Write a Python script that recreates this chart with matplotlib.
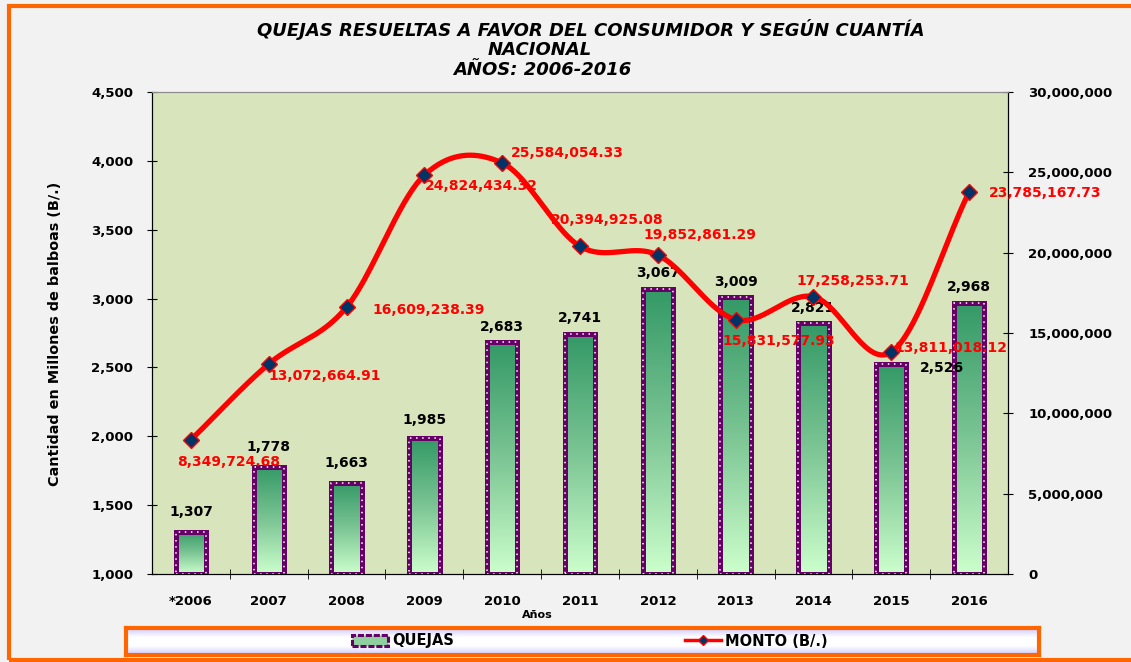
import numpy as np
import matplotlib.pyplot as plt
from matplotlib.colors import LinearSegmentedColormap
from matplotlib.patches import Rectangle, Patch
from matplotlib.lines import Line2D
from matplotlib.ticker import FuncFormatter, MultipleLocator

# datos
years = ["*2006", "2007", "2008", "2009", "2010", "2011", "2012", "2013", "2014", "2015", "2016"]
quejas = [1307, 1778, 1663, 1985, 2683, 2741, 3067, 3009, 2821, 2526, 2968]
monto = [8349724.68, 13072664.91, 16609238.39, 24824434.32, 25584054.33, 20394925.08,
         19852861.29, 15831577.93, 17258253.71, 13811018.12, 23785167.73]

# desplazamiento de etiquetas (px)
monto_off = [(38, -22), (56, -12), (82, -3), (57, -11), (65, 10), (27, 26),
             (42, 20), (43, -21), (39, 16), (60, 4), (76, -1)]
quejas_off = [(0, 20), (0, 20), (0, 20), (0, 18), (0, 15), (0, 16),
              (0, 16), (0, 15), (0, 15), (51, -4), (0, 16)]

W, H = 1131, 662
PT = 0.72  # puntos por pixel

plt.rcParams['font.family'] = ['DejaVu Sans']
plt.rcParams['font.weight'] = 'bold'


def smooth(xs, ys, n=40):
    xs = np.asarray(xs, float)
    ys = np.asarray(ys, float)
    px = np.r_[2 * xs[0] - xs[1], xs, 2 * xs[-1] - xs[-2]]
    py = np.r_[2 * ys[0] - ys[1], ys, 2 * ys[-1] - ys[-2]]
    t = np.linspace(0, 1, n)
    ox, oy = [], []
    for i in range(1, len(px) - 2):
        for arr, out in ((px, ox), (py, oy)):
            p0, p1, p2, p3 = arr[i - 1:i + 3]
            out.extend(0.5 * (2 * p1 + (-p0 + p2) * t + (2 * p0 - 5 * p1 + 4 * p2 - p3) * t ** 2
                              + (-p0 + 3 * p1 - 3 * p2 + p3) * t ** 3))
    return ox, oy


fig = plt.figure(figsize=(W / 100, H / 100), dpi=100, facecolor='#f2f2f2')
fig.patches.append(Rectangle((9 / W, 2 / H), 1.05, 654 / H, transform=fig.transFigure,
                             fill=False, ec='#ff6600', lw=3))

ax = fig.add_axes([152 / W, 88 / H, 856 / W, 482 / H])
ax.set_facecolor('#d8e4bc')
x = np.arange(len(years))

green = LinearSegmentedColormap.from_list('g', ['#ccffcc', '#7cc594', '#339966'])
grad = np.linspace(0, 1, 256).reshape(-1, 1)
base = 1000
bars = ax.bar(x, np.array(quejas) - base, bottom=base, width=0.39, color='none',
              edgecolor='#660066', lw=3.6, zorder=3)
ax.bar(x, np.array(quejas) - base, bottom=base, width=0.39, color='none',
       edgecolor='#ffffff', lw=1.1, ls=(0, (1, 3)), zorder=4)
for r in bars:
    x0 = r.get_x()
    ax.imshow(grad, extent=(x0, x0 + r.get_width(), r.get_y(), r.get_y() + r.get_height()),
              origin='lower', aspect='auto', cmap=green, zorder=2)

for i, q in enumerate(quejas):
    dx, dy = quejas_off[i]
    ax.annotate(f"{q:,}", (x[i], q), xytext=(dx * PT, dy * PT), textcoords='offset points',
                ha='center', va='center', fontsize=10, color='black', zorder=6,
                annotation_clip=False)

ax.set_xlim(-0.5, 10.5)
ax.set_ylim(1000, 4500)
ax.yaxis.set_major_locator(MultipleLocator(500))
ax.yaxis.set_major_formatter(FuncFormatter(lambda v, p: f"{v:,.0f}"))
ax.set_xticks(x)
ax.set_xticklabels(years)
ax.set_xticks(x[:-1] + 0.5, minor=True)
ax.tick_params(axis='x', which='major', length=0, pad=15, labelsize=9.5)
ax.tick_params(axis='x', which='minor', direction='inout', length=7)
ax.tick_params(axis='y', direction='inout', length=7, pad=10, labelsize=9.5)
ax.spines['top'].set_color('#8c8c8c')

ax2 = ax.twinx()
ax2.set_ylim(0, 30e6)
ax2.yaxis.set_major_locator(MultipleLocator(5e6))
ax2.yaxis.set_major_formatter(FuncFormatter(lambda v, p: f"{v:,.0f}"))
ax2.tick_params(axis='y', direction='inout', length=7, pad=11, labelsize=9.5)
ax2.spines['top'].set_color('#8c8c8c')

sx, sy = smooth(x, monto)
ax2.plot(sx, sy, color='red', lw=3.8, solid_capstyle='round', zorder=3)
ax2.plot(x, monto, ls='none', marker='D', ms=8.5, mfc='#003366', mec='red', mew=1, zorder=4)
for i, m in enumerate(monto):
    dx, dy = monto_off[i]
    ax2.annotate(f"{m:,.2f}", (x[i], m), xytext=(dx * PT, dy * PT), textcoords='offset points',
                 ha='center', va='center', fontsize=10, color='red', zorder=6,
                 annotation_clip=False)

# titulos
fig.text(591 / W, 1 - 30 / H, "QUEJAS RESUELTAS A FAVOR DEL CONSUMIDOR Y SEGÚN CUANTÍA",
         ha='center', va='center', fontsize=13, style='italic')
fig.text(540 / W, 1 - 50 / H, "NACIONAL", ha='center', va='center', fontsize=13, style='italic')
fig.text(542 / W, 1 - 70 / H, "AÑOS: 2006-2016", ha='center', va='center', fontsize=13, style='italic')
fig.text(537 / W, 1 - 615 / H, "Años", ha='center', va='center', fontsize=8)
fig.text(55 / W, 1 - 334 / H, "Cantidad en Millones de balboas (B/.)", ha='center', va='center',
         rotation=90, fontsize=10.4)

# leyenda
lax = fig.add_axes([126 / W, 7 / H, 913 / W, 27 / H])
lcm = LinearSegmentedColormap.from_list('l', ['#c8c8ff', '#ffffff', '#ffffff', '#c8c8ff'])
lax.imshow(grad, origin='lower', aspect='auto', cmap=lcm, extent=(0, 1, 0, 1))
lax.set_xticks([])
lax.set_yticks([])
for s in lax.spines.values():
    s.set_color('#ff6600')
    s.set_linewidth(3)

handles = [Patch(facecolor='#8fd0a0', edgecolor='#660066', lw=2.2, ls=(0, (2, 0.6))),
           Line2D([], [], color='red', lw=2.5, marker='D', ms=5.5, mfc='#003366', mec='red')]
fig.legend(handles, ["QUEJAS", "MONTO (B/.)"], loc='center', bbox_to_anchor=(590 / W, 1 - 641 / H),
           ncol=2, frameon=False, fontsize=10.5, handlelength=2.47, handletextpad=0.3,
           columnspacing=15.8, handleheight=0.7)

plt.savefig("out.png", dpi=100, facecolor=fig.get_facecolor())
